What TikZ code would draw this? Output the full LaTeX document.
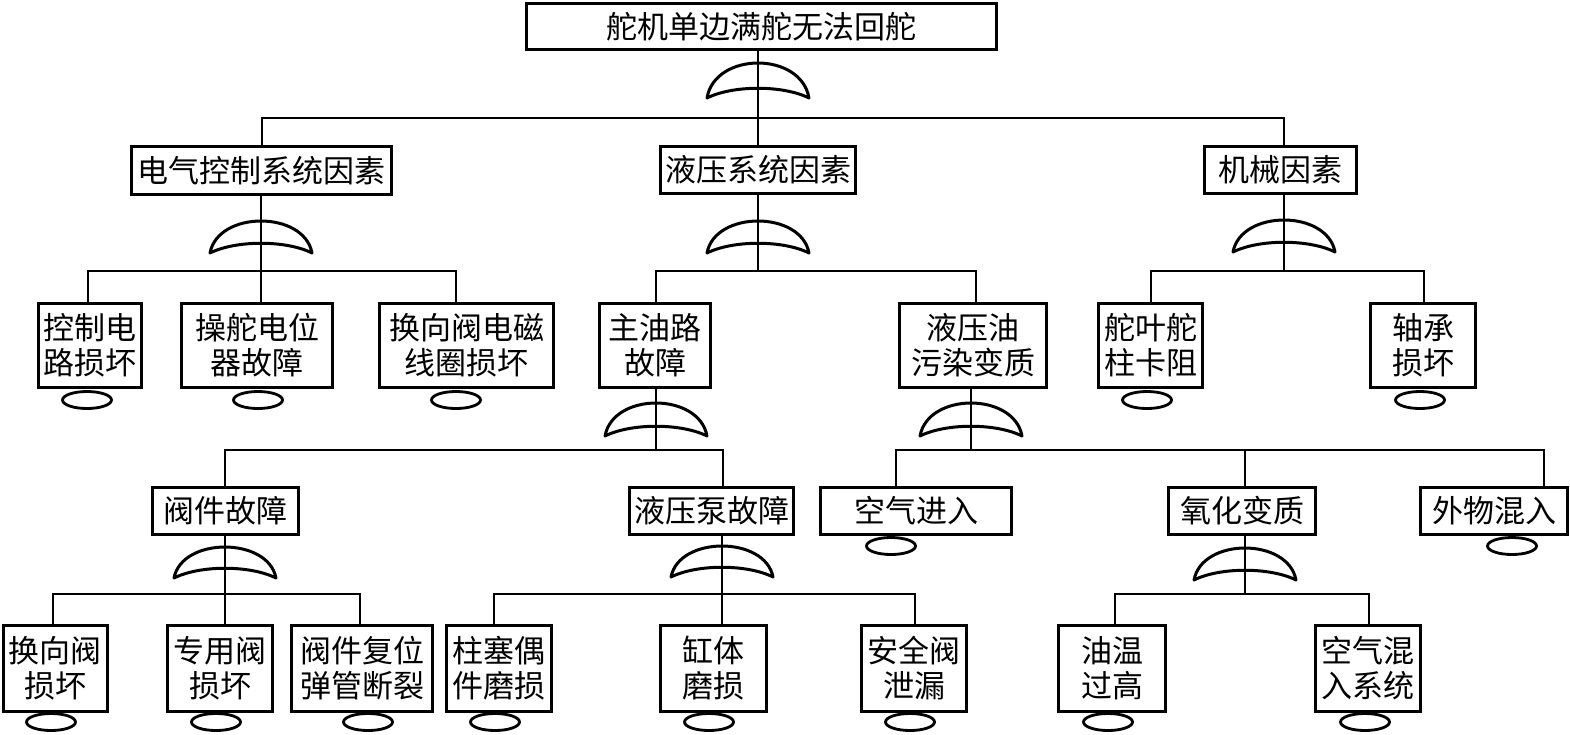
\documentclass[tikz,border=0pt]{standalone}
\usepackage{fontspec}
\newfontfamily\cjk{Noto Sans CJK SC}
\usetikzlibrary{shapes.geometric}
\tikzset{
  box/.style={draw, line width=3pt, inner sep=0pt, align=center,
    font=\cjk\fontsize{31}{35}\selectfont},
  conn/.style={line width=1.6pt},
  gatel/.style={line width=3pt, line join=round},
  evt/.style={draw, ellipse, line width=2.8pt, minimum width=49pt,
    minimum height=17pt, inner sep=0pt},
}
% OR gate: centre x, top y, end y
\newcommand\orgate[3]{%
  \draw[gatel] ({#1-51},#3) .. controls ({#1-43},{#3-(#3-#2)/0.75}) and ({#1+43},{#3-(#3-#2)/0.75}) .. ({#1+51},#3)
    .. controls ({#1+25},{#3-13}) and ({#1-25},{#3-13}) .. cycle;}
\begin{document}
\begin{tikzpicture}[x=1pt,y=-1pt]
\useasboundingbox[fill=white] (0,0) rectangle (1570,734);

% ---- boxes ----
\node[box, minimum width=470, minimum height=46] (top) at (761.5,26.5) {舵机单边满舵无法回舵};

\node[box, minimum width=260, minimum height=48] (A) at (261.5,170.5) {电气控制系统因素};
\node[box, minimum width=195, minimum height=47] (B) at (758,170) {液压系统因素};
\node[box, minimum width=152, minimum height=47] (C) at (1280.5,170) {机械因素};

\node[box, minimum width=103, minimum height=84] (a1) at (90,345.5) {控制电\\路损坏};
\node[box, minimum width=151, minimum height=84] (a2) at (257,345.5) {操舵电位\\器故障};
\node[box, minimum width=174, minimum height=84] (a3) at (466.5,345.5) {换向阀电磁\\线圈损坏};
\node[box, minimum width=111, minimum height=84] (b1) at (655,345.5) {主油路\\故障};
\node[box, minimum width=147, minimum height=84] (b2) at (973,345.5) {液压油\\污染变质};
\node[box, minimum width=104, minimum height=84] (c1) at (1150.5,345.5) {舵叶舵\\柱卡阻};
\node[box, minimum width=105, minimum height=84] (c2) at (1423,345.5) {轴承\\损坏};

\node[box, minimum width=146, minimum height=47] (d1) at (225.5,511) {阀件故障};
\node[box, minimum width=164, minimum height=47] (d2) at (711.5,511) {液压泵故障};
\node[box, minimum width=191, minimum height=47] (e1) at (916,511) {空气进入};
\node[box, minimum width=147, minimum height=47] (e2) at (1242,511) {氧化变质};
\node[box, minimum width=147, minimum height=47] (e3) at (1494,511) {外物混入};

\node[box, minimum width=104, minimum height=86] (f1) at (55.5,668.5) {换向阀\\损坏};
\node[box, minimum width=105, minimum height=86] (f2) at (220,668.5) {专用阀\\损坏};
\node[box, minimum width=141, minimum height=86] (f3) at (362,668.5) {阀件复位\\弹管断裂};
\node[box, minimum width=105, minimum height=86] (g1) at (499,668.5) {柱塞偶\\件磨损};
\node[box, minimum width=106, minimum height=86] (g2) at (713.5,668.5) {缸体\\磨损};
\node[box, minimum width=105, minimum height=86] (g3) at (914,668.5) {安全阀\\泄漏};
\node[box, minimum width=107, minimum height=86] (h1) at (1112,668.5) {油温\\过高};
\node[box, minimum width=105, minimum height=86] (h2) at (1368,668.5) {空气混\\入系统};

% ---- basic events ----
\node[evt] (ea1) at (87,400) {};
\node[evt] (ea2) at (258,400) {};
\node[evt] (ea3) at (456,400) {};
\node[evt] (ec1) at (1147,400) {};
\node[evt] (ec2) at (1420,400) {};
\node[evt] (ee1) at (891,546) {};
\node[evt] (ee3) at (1512,546) {};
\node[evt] (ef1) at (51,722) {};
\node[evt] (ef2) at (216,722) {};
\node[evt] (ef3) at (368,722) {};
\node[evt] (eg1) at (495,722) {};
\node[evt] (eg2) at (709,722) {};
\node[evt] (eg3) at (910,722) {};
\node[evt] (eh1) at (1108,722) {};
\node[evt] (eh2) at (1365,722) {};

% ---- junctions ----
\coordinate (j0) at (758,118);
\coordinate (jA) at (261,271);
\coordinate (jB) at (758,271);
\coordinate (jC) at (1284,271);
\coordinate (jb1) at (656,450);
\coordinate (jb2) at (971,450);
\coordinate (jd1) at (225,594);
\coordinate (jd2) at (722,594);
\coordinate (je2) at (1245,594);

% ---- gates ----
\orgate{758}{63}{98}
\orgate{261}{221}{253}
\orgate{758}{221}{253}
\orgate{1284}{220}{252}
\orgate{656}{403}{436}
\orgate{971}{403}{436}
\orgate{225}{547}{578}
\orgate{722}{546}{577}
\orgate{1245}{548}{580}

% ---- connectors ----
\draw[conn] (j0 |- top.south) -- (j0);
\draw[conn] (j0) -| ([xshift=0.5pt]A.north);
\draw[conn] (j0) -| (B.north);
\draw[conn] (j0) -| ([xshift=3.5pt]C.north);

\draw[conn] (jA |- A.south) -- (jA);
\draw[conn] (jA) -| ([xshift=-2pt]a1.north);
\draw[conn] (jA) -| ([xshift=4pt]a2.north);
\draw[conn] (jA) -| ([xshift=-10.5pt]a3.north);

\draw[conn] (jB |- B.south) -- (jB);
\draw[conn] (jB) -| ([xshift=1pt]b1.north);
\draw[conn] (jB) -| ([xshift=3pt]b2.north);

\draw[conn] (jC |- C.south) -- (jC);
\draw[conn] (jC) -| ([xshift=0.5pt]c1.north);
\draw[conn] (jC) -| ([xshift=1pt]c2.north);

\draw[conn] (jb1 |- b1.south) -- (jb1);
\draw[conn] (jb1) -| ([xshift=-0.5pt]d1.north);
\draw[conn] (jb1) -| ([xshift=11.5pt]d2.north);

\draw[conn] (jb2 |- b2.south) -- (jb2);
\draw[conn] (jb2) -| ([xshift=-20pt]e1.north);
\draw[conn] (jb2) -| ([xshift=3pt]e2.north);
\draw[conn] (jb2) -| ([xshift=50pt]e3.north);

\draw[conn] (jd1 |- d1.south) -- (jd1);
\draw[conn] (jd1) -| ([xshift=-2.5pt]f1.north);
\draw[conn] (jd1) -| ([xshift=5pt]f2.north);
\draw[conn] (jd1) -| ([xshift=-2pt]f3.north);

\draw[conn] (jd2 |- d2.south) -- (jd2);
\draw[conn] (jd2) -| ([xshift=-5pt]g1.north);
\draw[conn] (jd2) -| ([xshift=8.5pt]g2.north);
\draw[conn] (jd2) -| ([xshift=1pt]g3.north);

\draw[conn] (je2 |- e2.south) -- (je2);
\draw[conn] (je2) -| ([xshift=3pt]h1.north);
\draw[conn] (je2) -| ([xshift=1pt]h2.north);
\end{tikzpicture}
\end{document}
